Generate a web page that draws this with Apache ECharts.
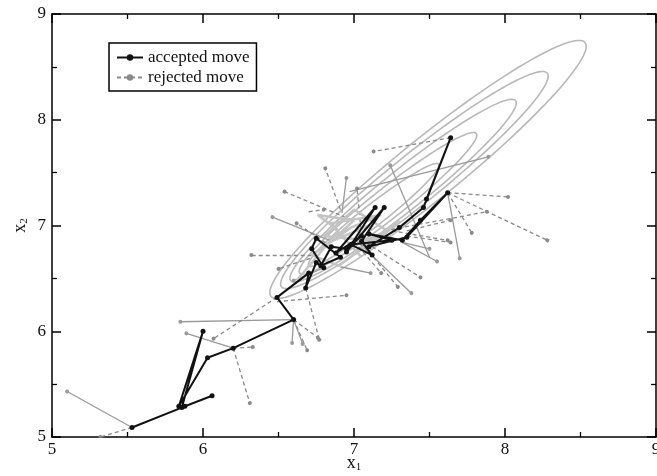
<!DOCTYPE html>
<html><head><meta charset="utf-8">
<script src="https://cdn.jsdelivr.net/npm/echarts@6/dist/echarts.min.js"></script>
<style>html,body{margin:0;padding:0;background:#fff}#c{width:657px;height:476px}</style>
</head><body><div id="c"></div>
<script>
// axis ranges / ticks
const xRange = [5, 9];
const yRange = [5, 9];
const tickStep = 1;

// accepted chain (black)
const acceptedX = [5.53,5.88,6.06,5.86,6.00,5.84,6.03,6.20,6.60,6.49,6.70,6.68,6.75,6.80,6.72,6.75,6.91,6.78,6.85,6.95,7.05,6.88,7.14,6.95,7.20,7.05,7.12,6.98,7.25,7.10,7.32,7.44,7.62,7.35,7.10,7.30,7.46,7.64,7.48];
const acceptedY = [5.09,5.29,5.39,5.28,6.00,5.29,5.75,5.84,6.11,6.32,6.55,6.41,6.65,6.60,6.78,6.88,6.70,6.62,6.80,6.78,6.90,6.74,7.17,6.75,7.17,6.85,6.72,6.82,6.86,6.92,6.86,7.05,7.31,6.89,6.80,6.98,7.17,7.83,7.25];

// light grey strokes inside the dense cluster
const clusterX = [6.62,6.90,6.76,7.00,6.85,7.10,6.95,7.22,7.00,6.80,7.15,7.30,6.90,6.72,6.98,7.18,6.84,7.05];
const clusterY = [6.48,6.95,7.10,7.05,6.85,7.00,6.78,6.95,7.15,6.90,6.85,7.05,6.62,6.72,6.98,7.10,7.02,6.70];

// rejected moves, dashed [x0, y0, x1, y1]
const rejectedDashed = [
  [5.53,5.09,5.32,5.00],[6.20,5.84,6.31,5.32],[6.20,5.84,6.33,5.85],[6.49,6.32,6.07,5.93],
  [6.60,6.11,6.69,5.82],[6.60,6.11,6.76,5.94],[6.68,6.41,6.77,5.92],[6.72,6.72,6.32,6.72],
  [6.71,6.69,6.50,6.59],[6.91,7.15,6.81,7.54],[6.99,7.05,6.54,7.32],[7.64,7.83,7.13,7.70],
  [7.35,6.95,7.64,7.05],[7.35,6.90,7.64,6.84],[7.12,6.80,7.44,6.51],[7.10,6.75,7.29,6.42],
  [7.62,7.31,8.28,6.86],[7.62,7.31,8.02,7.27],[7.20,6.95,7.88,7.13],[7.62,7.31,7.78,6.93],
  [7.25,6.95,7.62,6.86],[7.00,6.85,7.18,6.55],[6.70,7.13,6.80,7.15],[6.49,6.28,6.95,6.34],
  [6.85,6.80,6.62,7.02],[7.05,6.90,7.02,7.35]
];
// rejected moves drawn solid grey
const rejectedSolid = [
  [5.53,5.09,5.10,5.43],[6.20,5.84,5.89,5.98],[6.60,6.11,5.85,6.09],[6.60,6.11,6.59,5.89],
  [6.60,6.11,6.66,5.88],[6.84,6.86,6.46,7.08],[6.92,7.12,6.95,7.45],[6.97,7.32,7.89,7.65],
  [7.50,6.70,7.24,7.57],[7.32,6.84,7.50,6.78],[7.32,6.84,7.55,6.66],[7.00,6.88,7.38,6.36],
  [6.91,6.61,7.11,6.55],[7.62,7.31,7.70,6.69],[6.80,6.60,6.60,6.48]
];

// target density contours: upper tip, lower tip, width ratio
const contourUpper = [[8.53,8.73],[8.28,8.44],[8.07,8.18],[7.81,7.87],[7.56,7.58]];
const contourLower = [[6.45,6.33],[6.52,6.42],[6.58,6.48],[6.64,6.55],[6.70,6.62]];
const contourRatio = [0.15,0.145,0.14,0.135,0.13];

const serif = 'Liberation Serif';
const chart = echarts.init(document.getElementById('c'));

function axisCommon(pos, showLabel) {
  const isX = pos === 'bottom' || pos === 'top';
  return {
    type: 'value', min: isX ? xRange[0] : yRange[0], max: isX ? xRange[1] : yRange[1],
    interval: tickStep, position: pos,
    axisLine: {show: true, onZero: false, lineStyle: {color: '#000', width: 1.5}},
    axisTick: {show: true, inside: true, length: 9, lineStyle: {color: '#000', width: 1.5}},
    minorTick: {show: true, splitNumber: 2, length: 5, lineStyle: {color: '#000', width: 1.3}},
    splitLine: {show: false},
    axisLabel: {show: showLabel, color: '#111', fontFamily: serif, fontSize: 17, hideOverlap: false},
  };
}
const nameRich = {a: {fontFamily: serif, fontSize: 18, color: '#111'}, b: {fontFamily: serif, fontSize: 11, color: '#111', verticalAlign: 'bottom', padding: [8,0,0,0]}};

const xb = axisCommon('bottom', true);
xb.axisLabel.margin = 4;
xb.name = '{a|x}{b|1}';
xb.nameLocation = 'middle';
xb.nameGap = 17;
xb.nameMoveOverlap = false;
xb.nameTextStyle = {rich: nameRich};
const xt = axisCommon('top', false);
const yl = axisCommon('left', true);
yl.axisLabel.margin = 6;
yl.name = '{a|x}{b|2}';
yl.nameLocation = 'middle';
yl.nameGap = 22;
yl.nameRotate = 90;
yl.nameMoveOverlap = false;
yl.nameTextStyle = {rich: nameRich};
const yr = axisCommon('right', false);

const segs = arr => arr.map(s => ({coords: [[s[0], s[1]], [s[2], s[3]]]}));

chart.setOption({
  animation: false,
  backgroundColor: '#fff',
  grid: {left: 52, right: 1, top: 14, bottom: 39, containLabel: false, outerBoundsMode: 'none'},
  xAxis: [xb, xt],
  yAxis: [yl, yr],
  legend: {
    left: 109, top: 43, orient: 'vertical', itemWidth: 26, itemHeight: 8, itemGap: 3,
    padding: [6, 7, 5, 7], borderColor: '#000', borderWidth: 1.5,
    textStyle: {fontFamily: serif, fontSize: 17, color: '#111'},
    data: ['accepted move', 'rejected move']
  },
  series: [
    {
      type: 'custom', silent: true, z: 1,
      data: contourUpper.map((u, i) => [u[0], u[1], i]),
      renderItem: function (params, api) {
        const i = params.dataIndex;
        const U = api.coord(contourUpper[i]);
        const L = api.coord(contourLower[i]);
        const cx = (U[0] + L[0]) / 2, cy = (U[1] + L[1]) / 2;
        const ax = U[0] - cx, ay = U[1] - cy;
        const r = contourRatio[i];
        const bx = -ay * r, by = ax * r;
        const pts = [];
        for (let k = 0; k <= 120; k++) {
          const t = k / 120 * Math.PI * 2;
          pts.push([cx + ax * Math.cos(t) + bx * Math.sin(t), cy + ay * Math.cos(t) + by * Math.sin(t)]);
        }
        return {type: 'polyline', shape: {points: pts}, style: {stroke: '#b8b8b8', lineWidth: 1.6, fill: null}};
      }
    },
    {
      name: 'rejected move', type: 'line', data: [], symbol: 'circle', symbolSize: 4,
      itemStyle: {color: '#8a8a8a'}, lineStyle: {color: '#8a8a8a', width: 1.3, type: [4, 3]}
    },
    {
      name: 'solid grey', type: 'lines', coordinateSystem: 'cartesian2d', z: 2,
      data: segs(rejectedSolid), symbol: ['none', 'circle'], symbolSize: 4,
      lineStyle: {color: '#9a9a9a', width: 1.3, opacity: 1}
    },
    {
      name: 'rejected segs', type: 'lines', coordinateSystem: 'cartesian2d', z: 3,
      data: segs(rejectedDashed), symbol: ['none', 'circle'], symbolSize: 4,
      lineStyle: {color: '#8a8a8a', width: 1.3, type: [4, 3], opacity: 1}
    },
    {
      name: 'cluster', type: 'line', z: 4, symbol: 'none',
      data: clusterX.map((x, i) => [x, clusterY[i]]),
      lineStyle: {color: '#c4c4c4', width: 2.5}
    },
    {
      name: 'accepted move', type: 'line', z: 5, symbol: 'circle', symbolSize: 5, showSymbol: true,
      data: acceptedX.map((x, i) => [x, acceptedY[i]]),
      itemStyle: {color: '#111'}, lineStyle: {color: '#111', width: 2}
    }
  ]
});
</script></body></html>
